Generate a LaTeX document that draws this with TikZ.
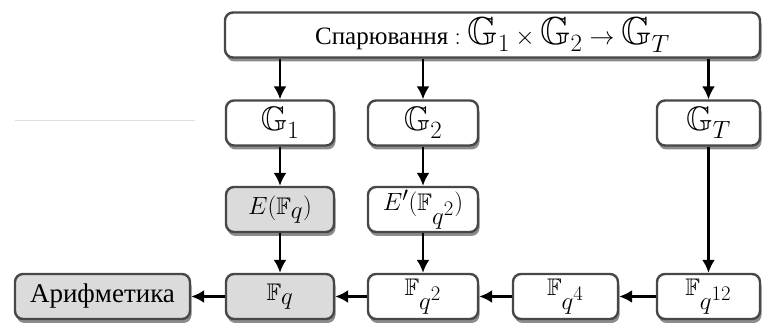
\documentclass[tikz,border=0pt]{standalone}
\usepackage{amssymb}
\usepackage{fontspec}
\setmainfont{Liberation Serif}
\usetikzlibrary{arrows.meta,shadows}
\newcommand\smallF{\mbox{\fontsize{24}{26}\selectfont$\mathbb{F}$}}
\tikzset{
  box/.style={draw=black!72, line width=2.4pt, rounded corners=8pt, fill=white,
    minimum height=45pt, inner sep=0pt, font=\fontsize{34}{38}\selectfont,
    drop shadow={shadow xshift=1.5pt, shadow yshift=-4pt, opacity=0.45, fill=black}},
  greybox/.style={box, fill=black!14},
  arr/.style={-{Latex[length=13pt,width=13pt]}, line width=2.2pt, black},
}
\begin{document}
\begin{tikzpicture}[x=1pt,y=-1pt]
\useasboundingbox (0,0) rectangle (763,323);
\draw[black!12, line width=0.6pt] (15,120) -- (195,120);
\node[box, minimum width=535pt, font=\fontsize{25}{28}\selectfont] (top) at (492.5,35)
  {Спарювання {\fontsize{39}{42}\selectfont$:\mathbb{G}_1\times\mathbb{G}_2\rightarrow\mathbb{G}_T$}};
\node[box, minimum width=108pt] (G1) at (280,123) {$\mathbb{G}_1$};
\node[box, minimum width=110pt] (G2) at (423,123) {$\mathbb{G}_2$};
\node[box, minimum width=103pt] (GT) at (708.5,123) {$\mathbb{G}_T$};
\node[greybox, minimum width=108pt, font=\fontsize{31}{34}\selectfont] (E1) at (280,209.5) {$E(\smallF_{\textstyle q})$};
\node[box, minimum width=110pt, font=\fontsize{31}{34}\selectfont] (E2) at (423,209.5) {$E'(\smallF_{\textstyle q^2})$};
\node[greybox, minimum width=175pt, font=\fontsize{27}{30}\selectfont] (ar) at (102.5,296.5) {Арифметика};
\node[greybox, minimum width=108pt, font=\fontsize{31}{34}\selectfont] (F1) at (280,296.5) {$\smallF_{\textstyle q}$};
\node[box, minimum width=110pt, font=\fontsize{31}{34}\selectfont] (F2) at (423,296.5) {$\smallF_{\textstyle q^2}$};
\node[box, minimum width=105pt, font=\fontsize{31}{34}\selectfont] (F4) at (565.5,296.5) {$\smallF_{\textstyle q^4}$};
\node[box, minimum width=103pt, font=\fontsize{31}{34}\selectfont] (F12) at (708.5,296.5) {$\smallF_{\textstyle q^{12}}$};
\draw[arr] (G1 |- top.south) -- (G1.north);
\draw[arr] (G2 |- top.south) -- (G2.north);
\draw[arr] (GT |- top.south) -- (GT.north);
\draw[arr] (G1.south) -- (E1.north);
\draw[arr] (G2.south) -- (E2.north);
\draw[arr] (E1.south) -- (F1.north);
\draw[arr] (E2.south) -- (F2.north);
\draw[arr] (GT.south) -- (F12.north);
\draw[arr] (F12.west) -- (F4.east);
\draw[arr] (F4.west) -- (F2.east);
\draw[arr] (F2.west) -- (F1.east);
\draw[arr] (F1.west) -- (ar.east);
\end{tikzpicture}
\end{document}
